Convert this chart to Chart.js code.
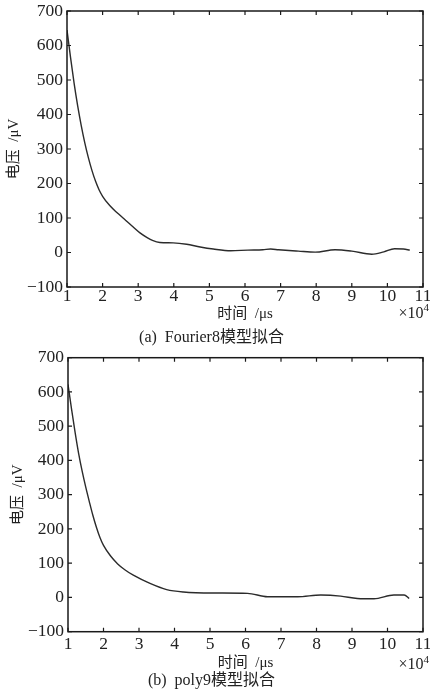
<!DOCTYPE html>
<html>
<head>
<meta charset="utf-8">
<script src="https://cdn.jsdelivr.net/npm/chart.js@4.4.1/dist/chart.umd.min.js"></script>
<style>
html,body{margin:0;padding:0;background:#fff;}
#wrap{position:relative;width:430px;height:697px;overflow:hidden;}
canvas{position:absolute;left:0;display:block;}
#c1{top:0;}
#c2{top:348px;}
</style>
</head>
<body>
<div id="wrap">
<canvas id="c1" width="430" height="348"></canvas>
<canvas id="c2" width="430" height="349"></canvas>
</div>
<script>
// ---- data (time in units of 10^4 μs, voltage in μV) ----
const xTicks = [1, 2, 3, 4, 5, 6, 7, 8, 9, 10, 11];
const yTicks = [-100, 0, 100, 200, 300, 400, 500, 600, 700];

const timeA = [1.0, 1.1, 1.2, 1.3, 1.4, 1.5, 1.6, 1.7, 1.8, 1.9, 2.0, 2.2, 2.4, 2.6, 2.86, 3.05, 3.24, 3.4, 3.61, 3.98, 4.36, 4.74, 5.11, 5.6, 6.08, 6.5, 6.72, 6.94, 7.5, 7.97, 8.53, 9.0, 9.56, 9.9, 10.2, 10.45, 10.63];
const voltA = [645, 565, 490, 425, 368, 318, 275, 238, 207, 182, 163, 136, 116, 98, 74, 57, 44, 35, 29, 28, 24, 16, 10, 5, 7, 8, 10, 8, 4, 1, 8, 4, -5, 2, 11, 10, 7];

const timeB = [1.0, 1.1, 1.2, 1.3, 1.4, 1.5, 1.6, 1.7, 1.8, 1.9, 2.0, 2.2, 2.4, 2.6, 2.84, 3.31, 3.78, 4.25, 5.09, 6.06, 6.62, 7.47, 8.12, 8.68, 9.15, 9.62, 10.18, 10.47, 10.61];
const voltB = [622, 550, 482, 420, 368, 322, 280, 240, 205, 175, 152, 121, 98, 81, 65, 41, 23, 16, 13, 12, 2, 2, 7, 4, -3, -4, 7, 7, -3];

const xTitle = '时间  /μs';
const yTitle = '电压  /μV';
const xExpBase = '×10';
const xExpPow = '4';
const captionA = '(a)  Fourier8模型拟合';
const captionB = '(b)  poly9模型拟合';

// ---- styling ----
const SERIF = "'Liberation Serif', 'Times New Roman', serif";
const MIXED = "'Liberation Serif', 'Noto Sans CJK SC', serif";
const INK = '#222';

const framePlugin = {
  id: 'frame',
  afterDraw(chart, args, opts) {
    const {ctx, chartArea: a, scales: {x, y}} = chart;
    ctx.save();
    ctx.strokeStyle = '#1a1a1a';
    ctx.lineWidth = 1.5;
    ctx.strokeRect(a.left, a.top, a.right - a.left, a.bottom - a.top);
    ctx.lineWidth = 1.2;
    ctx.beginPath();
    const L = 4;
    x.ticks.forEach(t => {
      const px = x.getPixelForValue(t.value);
      ctx.moveTo(px, a.bottom); ctx.lineTo(px, a.bottom - L);
      ctx.moveTo(px, a.top); ctx.lineTo(px, a.top + L);
    });
    y.ticks.forEach(t => {
      const py = y.getPixelForValue(t.value);
      ctx.moveTo(a.left, py); ctx.lineTo(a.left + L, py);
      ctx.moveTo(a.right, py); ctx.lineTo(a.right - L, py);
    });
    ctx.stroke();
    // ×10^4 exponent label
    ctx.fillStyle = INK;
    ctx.textAlign = 'right';
    ctx.textBaseline = 'middle';
    ctx.font = '11px ' + SERIF;
    const wp = ctx.measureText(xExpPow).width;
    ctx.fillText(xExpPow, opts.expRight, opts.expY - 5);
    ctx.font = '16px ' + SERIF;
    ctx.fillText(xExpBase, opts.expRight - wp, opts.expY);
    ctx.restore();
  }
};

function makeChart(id, times, volts, caption, L) {
  const pts = times.map((t, i) => ({x: t, y: volts[i]}));
  return new Chart(document.getElementById(id), {
    type: 'line',
    data: {
      datasets: [{
        data: pts,
        borderColor: '#2b2b2b',
        borderWidth: 1.4,
        pointRadius: 0,
        fill: false,
        cubicInterpolationMode: 'monotone'
      }]
    },
    plugins: [framePlugin],
    options: {
      responsive: false,
      animation: false,
      devicePixelRatio: 1,
      layout: {padding: {top: L.top, right: 7, left: 0, bottom: 0}},
      scales: {
        x: {
          type: 'linear',
          min: 1, max: 11,
          afterBuildTicks: s => { s.ticks = xTicks.map(v => ({value: v})); },
          grid: {display: false, drawTicks: false},
          border: {display: false},
          ticks: {
            autoSkip: false, maxRotation: 0, minRotation: 0,
            padding: L.xTickPad,
            color: INK,
            font: {family: SERIF, size: 17.5, lineHeight: 1}
          },
          title: {
            display: true, text: xTitle, color: INK,
            font: {family: MIXED, size: 15, lineHeight: 1},
            padding: {top: 0, bottom: L.xTitlePad}
          },
          afterFit: s => { s.height = L.xHeight; s.paddingLeft = 0; s.paddingRight = 0; }
        },
        y: {
          type: 'linear',
          min: -100, max: 700,
          afterBuildTicks: s => { s.ticks = yTicks.map(v => ({value: v})); },
          grid: {display: false, drawTicks: false},
          border: {display: false},
          ticks: {
            padding: 4,
            color: INK,
            font: {family: SERIF, size: 17.5, lineHeight: 1},
            callback: v => String(v).replace('-', '\u2212')
          },
          title: {
            display: true, text: yTitle, color: INK,
            font: {family: MIXED, size: 15, lineHeight: 1},
            padding: {top: L.yTitlePad, bottom: 0}
          },
          afterFit: s => { s.width = L.yWidth; s.paddingTop = 0; s.paddingBottom = 0; }
        }
      },
      plugins: {
        legend: {display: false},
        tooltip: {enabled: false},
        title: {
          display: true, position: 'bottom', text: caption, color: INK,
          font: {family: MIXED, size: 16, weight: 'normal', lineHeight: 1},
          padding: {top: 0, bottom: L.capPad}
        },
        frame: {expRight: 429, expY: L.expY}
      }
    }
  });
}

makeChart('c1', timeA, voltA, captionA,
  {top: 11, xTickPad: 1, xTitlePad: 8, xHeight: 43, yWidth: 67, yTitlePad: 6.5, capPad: 2, expY: 313.5});
makeChart('c2', timeB, voltB, captionB,
  {top: 9.7, xTickPad: 4, xTitlePad: 2, xHeight: 40.8, yWidth: 68, yTitlePad: 10.5, capPad: 8.5, expY: 317});
</script>
</body>
</html>
